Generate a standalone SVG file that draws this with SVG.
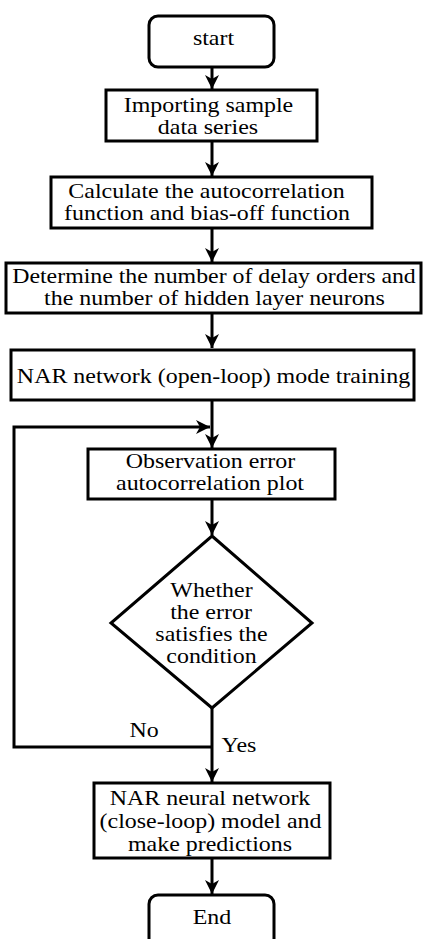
<svg xmlns="http://www.w3.org/2000/svg" width="424" height="939" viewBox="0 0 424 939">
<style>
.n{fill:#fff;stroke:#000;stroke-width:3}
.t{font-family:'Liberation Serif','Times New Roman',serif;font-size:21px;fill:#000;text-anchor:middle}
.c{fill:none;stroke:#000;stroke-width:3}
</style>
<defs>
<marker id="a" markerUnits="userSpaceOnUse" markerWidth="14" markerHeight="16" refX="14" refY="7" orient="auto" viewBox="0 0 14 14">
<path d="M0,0 L14,7 L0,14 L4,7 Z" fill="#000"/>
</marker>
</defs>
<rect width="424" height="939" fill="#fff"/>
<g id="connectors">
<line class="c" x1="212" y1="67" x2="212" y2="89" marker-end="url(#a)"/>
<line class="c" x1="212" y1="141" x2="212" y2="176" marker-end="url(#a)"/>
<line class="c" x1="212" y1="228" x2="212" y2="262" marker-end="url(#a)"/>
<line class="c" x1="212" y1="313" x2="212" y2="348" marker-end="url(#a)"/>
<line class="c" x1="212" y1="400" x2="212" y2="448" marker-end="url(#a)"/>
<polyline class="c" points="212,747 14,747 14,427 210,427" marker-end="url(#a)"/>
<line class="c" x1="212" y1="499" x2="212" y2="535" marker-end="url(#a)"/>
<line class="c" x1="212" y1="708" x2="212" y2="782" marker-end="url(#a)"/>
<line class="c" x1="212" y1="858" x2="212" y2="894" marker-end="url(#a)"/>
<text class="t" transform="translate(144 737) scale(1.14 1)">No</text>
<text class="t" transform="translate(239 752) scale(1.14 1)">Yes</text>
</g>
<g id="start">
<rect class="n" x="149" y="16" width="125" height="51" rx="9"/>
<text class="t" transform="translate(213.5 45) scale(1.14 1)">start</text>
</g>
<g id="import">
<rect class="n" x="106" y="90" width="211" height="51"/>
<text class="t" transform="translate(208.5 112) scale(1.14 1)">Importing sample</text>
<text class="t" transform="translate(208 134) scale(1.14 1)">data series</text>
</g>
<g id="calc">
<rect class="n" x="51" y="177" width="321" height="51"/>
<text class="t" transform="translate(206.5 198) scale(1.14 1)">Calculate the autocorrelation</text>
<text class="t" transform="translate(207 220) scale(1.14 1)">function and bias-off function</text>
</g>
<g id="determine">
<rect class="n" x="6" y="263" width="415" height="50"/>
<text class="t" transform="translate(214 283) scale(1.135 1)">Determine the number of delay orders and</text>
<text class="t" transform="translate(214.5 305) scale(1.14 1)">the number of hidden layer neurons</text>
</g>
<g id="train">
<rect class="n" x="11" y="350" width="403" height="50"/>
<text class="t" transform="translate(213.5 383) scale(1.14 1)">NAR network (open-loop) mode training</text>
</g>
<g id="observe">
<rect class="n" x="88" y="449" width="247" height="50"/>
<text class="t" transform="translate(210.5 468) scale(1.14 1)">Observation error</text>
<text class="t" transform="translate(210 490) scale(1.14 1)">autocorrelation plot</text>
</g>
<g id="decision">
<polygon class="n" points="212,536 312,623 212,708 111,623"/>
<text class="t" transform="translate(211.5 597) scale(1.14 1)">Whether</text>
<text class="t" transform="translate(211 619) scale(1.14 1)">the error</text>
<text class="t" transform="translate(211.5 641) scale(1.14 1)">satisfies the</text>
<text class="t" transform="translate(211.5 663) scale(1.14 1)">condition</text>
</g>
<g id="predict">
<rect class="n" x="94" y="783" width="236" height="75"/>
<text class="t" transform="translate(210 805) scale(1.14 1)">NAR neural network</text>
<text class="t" transform="translate(210.5 828) scale(1.14 1)">(close-loop) model and</text>
<text class="t" transform="translate(210 851) scale(1.14 1)">make predictions</text>
</g>
<g id="end">
<rect class="n" x="149" y="895" width="125" height="60" rx="9"/>
<text class="t" transform="translate(212 924) scale(1.14 1)">End</text>
</g>
</svg>
